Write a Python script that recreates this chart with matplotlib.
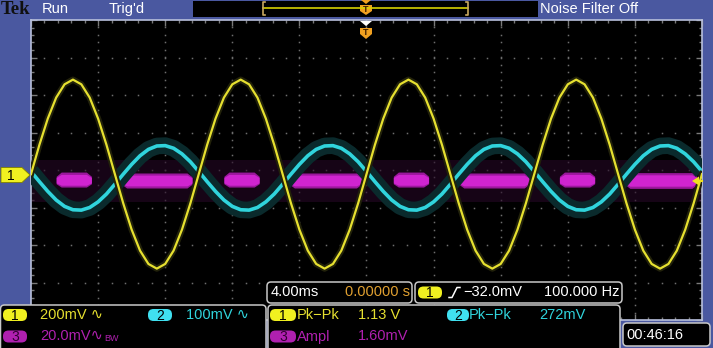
import numpy as np
import matplotlib
matplotlib.use("Agg")
import matplotlib.pyplot as plt
from matplotlib.patches import FancyBboxPatch, Polygon, Rectangle
from matplotlib.ticker import MultipleLocator

# ---------------- data (read from the screen) ----------------
# sample times, ms (screen spans 10 div x 4.00 ms/div, trigger at centre)
t_ms = np.arange(-20.0, 20.01, 0.5)

# CH1 (yellow), mV, 200 mV/div
ch1_mv = [0, 156, 296, 408, 479, 504, 479, 408, 296, 156,
          0, -156, -296, -408, -479, -504, -479, -408, -296, -156,
          0, 156, 296, 408, 479, 504, 479, 408, 296, 156,
          0, -156, -296, -408, -479, -504, -479, -408, -296, -156,
          0, 156, 296, 408, 479, 504, 479, 408, 296, 156,
          0, -156, -296, -408, -479, -504, -479, -408, -296, -156,
          0, 156, 296, 408, 479, 504, 479, 408, 296, 156,
          0, -156, -296, -408, -479, -504, -479, -408, -296, -156,
          0]

# CH2 (cyan), mV, 100 mV/div
ch2_mv = [17, -10, -36, -59, -76, -85, -86, -79, -64, -43,
          -17, 10, 36, 59, 76, 85, 86, 79, 64, 43,
          17, -10, -36, -59, -76, -85, -86, -79, -64, -43,
          -17, 10, 36, 59, 76, 85, 86, 79, 64, 43,
          17, -10, -36, -59, -76, -85, -86, -79, -64, -43,
          -17, 10, 36, 59, 76, 85, 86, 79, 64, 43,
          17, -10, -36, -59, -76, -85, -86, -79, -64, -43,
          -17, 10, 36, 59, 76, 85, 86, 79, 64, 43,
          17]

# CH3 (magenta) noise bursts, 20 mV/div: start/end (ms) and band edges (mV)
ch3_start = [-18.5, -14.6, -8.5, -4.6, 1.6, 5.5, 11.5, 15.4]
ch3_end = [-16.4, -10.4, -6.4, -0.3, 3.7, 9.7, 13.6, 19.7]
ch3_hi = [4.5, 4.0, 4.5, 4.0, 4.5, 4.0, 4.5, 4.2]
ch3_lo = [-3.5, -4.0, -3.5, -4.0, -3.5, -4.0, -3.5, -4.2]
ch3_haze_hi = 11.0
ch3_haze_lo = -11.5

# vertical scales (mV/div) and ground offsets (div)
ch1_scale, ch1_off = 200.0, -0.11
ch2_scale, ch2_off = 100.0, -0.21
ch3_scale, ch3_off = 20.0, -0.28
ms_per_div = 4.0

# ---------------- styling ----------------
BLUE = "#4a58a0"
YEL = "#e6e030"
CYA = "#30d4dc"
MAG = "#d024d0"
MAG_TXT = "#b020b0"
FONT = ["Liberation Sans Narrow", "Liberation Sans", "DejaVu Sans"]

W, H = 713, 348
fig = plt.figure(figsize=(W / 100, H / 100), dpi=100)
fig.patch.set_facecolor(BLUE)

ax = fig.add_axes([31 / W, 1 - 320 / H, 671 / W, 300 / H])
ax.set_facecolor("black")
ax.set_xlim(-5, 5)
ax.set_ylim(-4, 4)
for s in ax.spines.values():
    s.set_color("#b8c0dc")
    s.set_linewidth(1.2)
ax.xaxis.set_major_locator(MultipleLocator(1))
ax.yaxis.set_major_locator(MultipleLocator(1))
ax.xaxis.set_minor_locator(MultipleLocator(0.2))
ax.yaxis.set_minor_locator(MultipleLocator(0.2))
ax.tick_params(which="both", direction="in", top=True, right=True,
               labelbottom=False, labelleft=False, color="#7a7a7a")
ax.tick_params(which="major", length=4, width=1)
ax.tick_params(which="minor", length=2.5, width=1)

# graticule dots
gx = np.arange(-5, 5.001, 0.2)
gy = np.arange(-4, 4.001, 0.2)
for yi in range(-3, 4):
    ax.plot(gx, np.full_like(gx, yi), ls="none", marker="s", ms=1.1,
            mew=0, color="#6e6e6e", zorder=1)
for xi in range(-4, 5):
    ax.plot(np.full_like(gy, xi), gy, ls="none", marker="s", ms=1.1,
            mew=0, color="#6e6e6e", zorder=1)

xd = t_ms / ms_per_div
y1 = ch1_off + np.array(ch1_mv) / ch1_scale
y2 = ch2_off + np.array(ch2_mv) / ch2_scale

# CH3 haze and bursts
ax.fill_between([-5, 5], ch3_off + ch3_haze_lo / ch3_scale,
                ch3_off + ch3_haze_hi / ch3_scale, color="#260826",
                alpha=0.6, lw=0, zorder=2)
taper = np.array([0.5, 1.0, 1.0, 0.5])
for s0, s1, hi, lo in zip(ch3_start, ch3_end, ch3_hi, ch3_lo):
    xs = np.array([s0, s0 + 0.3, s1 - 0.3, s1]) / ms_per_div
    ax.fill_between(xs, ch3_off + taper * lo / ch3_scale,
                    ch3_off + taper * hi / ch3_scale, color="#9a189c",
                    lw=0, zorder=3)
    ax.fill_between(xs, ch3_off + 0.72 * taper * lo / ch3_scale,
                    ch3_off + 0.72 * taper * hi / ch3_scale, color=MAG,
                    lw=0, zorder=3)

# CH2 glow + trace
ax.plot(xd, y2, color="#0a2a2c", lw=12, solid_capstyle="butt", zorder=4)
ax.plot(xd, y2, color=CYA, lw=2.6, zorder=5)
# CH1 glow + trace
ax.plot(xd, y1, color="#22220a", lw=4.5, zorder=6)
ax.plot(xd, y1, color=YEL, lw=1.6, zorder=7)

# ---------------- overlay (screen furniture) ----------------
ov = fig.add_axes([0, 0, 1, 1], zorder=10)
ov.set_xlim(0, W)
ov.set_ylim(H, 0)
ov.axis("off")
ov.patch.set_alpha(0)


def txt(x, y, s, color="white", size=10.5, ha="left", **kw):
    ov.text(x, y, s, color=color, fontsize=size, ha=ha, va="center",
            family=FONT, **kw)


def box(x0, y0, x1, y1, r=4):
    ov.add_patch(FancyBboxPatch((x0, y0), x1 - x0, y1 - y0,
                                boxstyle=f"round,pad=0,rounding_size={r}",
                                fc="black", ec="#c8c8c8", lw=1.1))


def badge(x0, yc, label, fc, w=24, h=12, tc="black"):
    ov.add_patch(FancyBboxPatch((x0, yc - h / 2), w, h,
                                boxstyle="round,pad=0,rounding_size=5.5",
                                fc=fc, ec="none"))
    ov.text(x0 + w / 2, yc + 0.5, label, color=tc, fontsize=10,
            ha="center", va="center", family=FONT)


# top bar
ov.text(1, 9.5, "Tek", color="#101010", fontsize=13.5, fontweight="bold",
        family=["Liberation Serif", "DejaVu Serif"], va="center")
txt(42, 9, "Run")
txt(109, 9, "Trig'd")
ov.add_patch(Rectangle((193, 1), 345, 16, fc="black", ec="none"))
ov.plot([263, 468], [7.5, 7.5], color="#d8d000", lw=1.2)
ov.plot([265, 263, 263, 265], [2, 2, 15, 15], color="#c8a860", lw=1.2)
ov.plot([466, 468, 468, 466], [2, 2, 15, 15], color="#c8a860", lw=1.2)
ov.add_patch(Polygon([(361, 0), (371, 0), (366, 4)], fc="#f0a020"))
ov.add_patch(Polygon([(360, 5), (372, 5), (372, 11), (366, 15), (360, 11)],
                     fc="#f0a020"))
ov.text(366, 9, "T", color="#402000", fontsize=6.5, ha="center",
        va="center", fontweight="bold", family=FONT)
txt(540, 9, "Noise Filter Off")

# trigger markers inside graticule
ov.add_patch(Polygon([(360, 21), (372, 21), (366, 26)], fc="white"))
ov.add_patch(Polygon([(360, 28), (372, 28), (372, 34), (366, 39), (360, 34)],
                     fc="#f0a020"))
ov.text(366, 32.5, "T", color="#402000", fontsize=6.5, ha="center",
        va="center", fontweight="bold", family=FONT)

# channel 1 ground marker and trigger level arrow
ov.add_patch(Polygon([(1, 167.5), (22, 167.5), (30, 175), (22, 182.5),
                      (1, 182.5)], fc="#f0f020", ec="#808000", lw=0.6))
ov.text(11, 175.5, "1", color="black", fontsize=10, ha="center",
        va="center", family=FONT)
ov.add_patch(Polygon([(692, 181), (699, 176.5), (699, 185.5)], fc="#f0e020"))
ov.plot([697, 702], [181, 181], color="#f0e020", lw=1.5)

# bottom readouts
box(267, 282, 412, 303)
txt(271, 292.5, "4.00ms")
txt(410, 292.5, "0.00000 s", color="#e0a030", ha="right")

box(415, 282, 622, 303)
badge(418, 292.5, "1", "#f0f020")
ov.plot([449, 452, 457, 460], [297.5, 297.5, 287.5, 287.5], color="white",
        lw=1.1)
txt(463, 292.5, "\u221232.0mV")
txt(619, 292.5, "100.000 Hz", ha="right")

box(0.5, 305, 266, 356)
badge(3, 315, "1", "#f0f020")
txt(40, 315, "200mV \u223f", color=YEL)
badge(148, 315, "2", "#40e0f0")
txt(186, 315, "100mV \u223f", color=CYA)
badge(3, 336.5, "3", MAG_TXT, tc="#300030")
txt(40, 336.5, "20.0mV\u223f", color=MAG_TXT)
txt(104, 338.5, "BW", color=MAG_TXT, size=6.5)

box(268, 305, 620, 356)
badge(270, 315, "1", "#f0f020", w=26)
txt(297, 315, "Pk\u2212Pk", color=YEL)
txt(358, 315, "1.13 V", color=YEL)
badge(447, 315, "2", "#40e0f0", w=22)
txt(469, 315, "Pk\u2212Pk", color=CYA)
txt(539, 315, "272mV", color=CYA)
badge(270, 336.5, "3", MAG_TXT, w=26, tc="#300030")
txt(297, 336.5, "Ampl", color=MAG_TXT)
txt(358, 336.5, "1.60mV", color=MAG_TXT)

box(623, 323, 710, 346)
txt(626, 335, "00:46:16")

fig.savefig("out.png", dpi=100, facecolor=BLUE)
